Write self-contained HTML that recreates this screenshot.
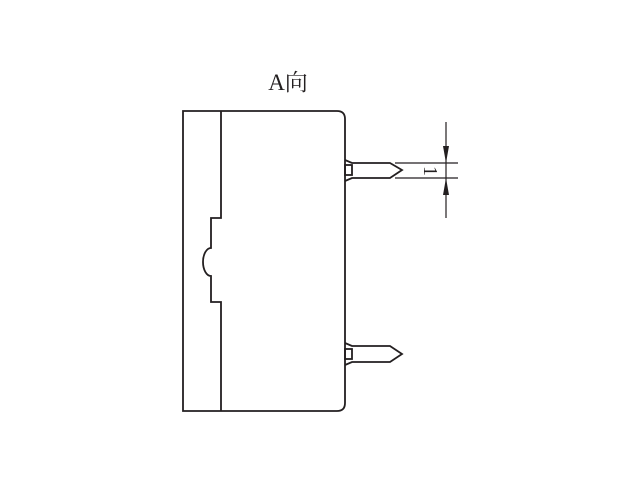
<!DOCTYPE html>
<html><head><meta charset="utf-8"><style>
html,body{margin:0;padding:0;background:#fff;}
</style></head><body>
<svg width="640" height="480" viewBox="0 0 640 480" xmlns="http://www.w3.org/2000/svg">
<g fill="none" stroke="#231f20" stroke-width="1.8">
<path d="M183,111 H337 Q345,111 345,119 V403 Q345,411 337,411 H183 Z"/>
<path d="M221,111 V218 H211 V248 A8,14 0 0 0 211,276 V302 H221 V411"/>
<!-- pin 1 -->
<path d="M345,160 L352,163 H390 L402,170 L390,178 H352 L345,181"/>
<rect x="345" y="165" width="7" height="10"/>
<!-- pin 2 -->
<path d="M345,343 L352,346 H390 L402,354 L390,362 H352 L345,365"/>
<rect x="345" y="349" width="7" height="10"/>
</g>
<g stroke="#231f20" stroke-width="1.2" fill="none">
<line x1="395" y1="163" x2="458" y2="163"/>
<line x1="395" y1="178" x2="458" y2="178"/>
<line x1="446" y1="122" x2="446" y2="218"/>
</g>
<g fill="#231f20">
<polygon points="446,163 443,146 449,146"/>
<polygon points="446,178 443,195 449,195"/>
</g>
<text x="0" y="0" transform="translate(430,171) rotate(90)" text-anchor="middle" dominant-baseline="central" font-family="Liberation Serif, serif" font-size="20" fill="#231f20">1</text>
<text x="288" y="90" text-anchor="middle" font-family="Liberation Serif, 'Noto Serif CJK SC', serif" font-size="23" fill="#231f20">A向</text>
</svg>
</body></html>
